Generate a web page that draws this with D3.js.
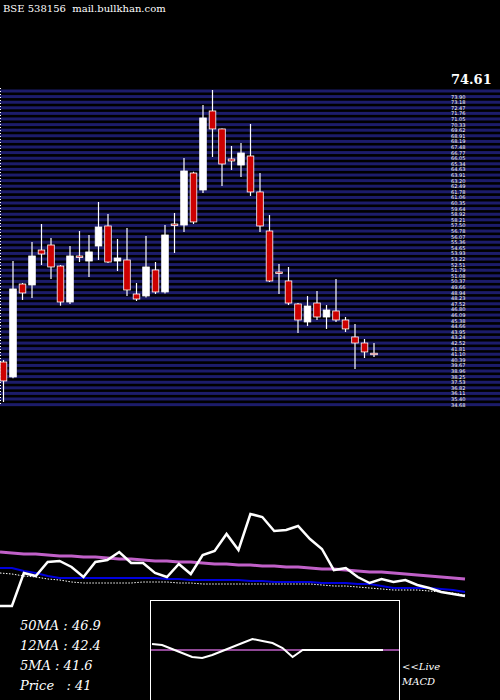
<!DOCTYPE html>
<html><head><meta charset="utf-8">
<script src="https://cdn.jsdelivr.net/npm/d3@7"></script>
<style>body{margin:0;background:#000}svg{display:block}text{white-space:pre}</style>
</head><body>
<script>
const opens =[39.98,38.08,49.91,49.79,54.24,54.88,52.20,47.62,53.48,52.84,54.75,57.30,52.84,52.97,48.64,48.39,51.70,48.90,57.55,57.42,64.04,61.88,71.94,69.65,65.83,65.06,66.21,61.63,56.66,51.44,50.30,47.37,45.08,47.49,45.71,46.48,45.33,43.17,42.40,41.10];
const closes=[37.57,49.28,48.77,53.48,53.73,52.08,47.62,53.48,53.35,53.99,57.17,52.71,53.22,49.15,48.00,52.08,48.90,56.15,57.49,64.30,57.81,71.05,69.65,65.19,65.57,66.59,61.63,57.30,50.30,51.32,47.49,45.33,47.11,45.71,46.60,45.33,44.19,42.40,41.26,41.00];
const highs =[40.24,52.84,50.04,55.26,57.55,55.77,52.33,54.75,56.66,56.15,60.35,58.82,55.64,57.04,50.04,56.02,52.71,57.42,58.95,65.95,64.20,72.70,74.61,69.70,67.48,67.86,70.28,64.04,58.70,52.46,52.08,47.49,48.39,49.02,47.24,50.55,45.71,44.82,42.91,42.40];
const lows  =[34.89,37.90,47.88,48.13,52.33,50.55,47.15,47.37,52.71,50.81,52.97,52.59,51.57,48.39,47.75,48.20,48.64,48.70,53.86,56.53,57.55,61.50,66.08,62.39,64.43,63.54,61.12,56.53,50.17,48.64,47.24,43.68,44.57,45.33,44.19,45.08,43.80,39.09,40.49,40.62];
const volLine=[0,0,33,30,44,45,39,29,44,46,54,43,43,33,29,42,32,51,55,72,56,92,89,75,76,80,67,57,36,38,29,23,27,24,26,21,18,14,12,10];
const ma50=[54,53,52,52,51,50,50,49,49,48,47,47,46,45,45,44,44,43,42,42,41,41,40,40,39,39,38,37,37,36,35,34,34,33,32,31,30,29,28,27];
const ma12=[38,38,35,33,30,28,28,28,28,28,28,28,28,28,27,27,26,26,26,26,26,25,25,24,24,24,24,23,23,23,22,22,20,18,18,18,18,17,16,14];
const ma5=[33,32,30,29,27,26,24,23,23,23,23,23,24,24,24,23,23,22,22,22,22,22,22,22,22,22,22,21,20,20,19,18,17,16,16,16,15,14,13,11];
const macd=[6,5,1,-3,-7,-8,-5,-1,3,7,11,9,7,2,-7,0,0,0,0,0,0,0,0,0];
const infoLabels=["50MA : 46.9","12MA : 42.4","5MA : 41.6","Price   : 41"];

const W=500,H=700;
const svg=d3.select("body").append("svg").attr("width",W).attr("height",H);
svg.append("rect").attr("width",W).attr("height",H).attr("fill","#000");

const x=d3.scaleLinear().domain([0,39]).range([3.5,374]);
const y=d3.scaleLinear().domain([34.89,74.61]).range([402,90]);

const gridTicks=d3.range(0,57).map(i=>+(74.61-i*0.713).toFixed(2));
svg.append("g").selectAll("rect").data(gridTicks).join("rect")
 .attr("x",0).attr("width",W).attr("y",d=>y(d)-0.5).attr("height",3).attr("fill","#1c1c6a");
svg.append("g").selectAll("text").data(gridTicks.slice(1)).join("text")
 .attr("x",451).attr("y",d=>y(d)+3).attr("fill","#fff").attr("font-size",5)
 .attr("font-family","DejaVu Sans").text(d=>d.toFixed(2)+" ");
svg.append("text").attr("x",451).attr("y",84).attr("fill","#fff").attr("font-size",13)
 .attr("font-family","DejaVu Serif").attr("font-weight","bold").text("74.61");
svg.append("line").attr("x1",0.5).attr("x2",0.5).attr("y1",88).attr("y2",405).attr("stroke","#fff").attr("stroke-dasharray","1,2");

const idx=d3.range(opens.length);
const g=svg.append("g");
g.selectAll("line").data(idx).join("line")
 .attr("x1",i=>x(i)).attr("x2",i=>x(i)).attr("y1",i=>y(highs[i])).attr("y2",i=>y(lows[i]))
 .attr("stroke","#fff").attr("stroke-width",1.2);
g.selectAll("rect").data(idx).join("rect")
 .attr("x",i=>x(i)-3.3).attr("width",6.6)
 .attr("y",i=>y(Math.max(opens[i],closes[i])))
 .attr("height",i=>Math.max(1.5,Math.abs(y(opens[i])-y(closes[i]))))
 .attr("fill",i=>closes[i]<opens[i]?"#cc0000":"#fff")
 .attr("stroke","#fff").attr("stroke-width",0.8);

const yv=d3.scaleLinear().domain([0,100]).range([606,506]);
const xl=d3.scaleLinear().domain([0,39]).range([0,465]);
const ln=d3.line().x((d,i)=>xl(i)).y(d=>yv(d));
svg.append("path").attr("d",ln(ma50)).attr("fill","none").attr("stroke","#c060c8").attr("stroke-width",3);
svg.append("path").attr("d",ln(ma12)).attr("fill","none").attr("stroke","#0000dd").attr("stroke-width",2);
svg.append("path").attr("d",ln(ma5)).attr("fill","none").attr("stroke","#fff").attr("stroke-width",1).attr("stroke-dasharray","1.5,1.5");
svg.append("path").attr("d",ln(volLine)).attr("fill","none").attr("stroke","#fff").attr("stroke-width",2.5);

svg.append("rect").attr("x",150.5).attr("y",600.5).attr("width",249).attr("height",110).attr("fill","#000").attr("stroke","#fff");
svg.append("line").attr("x1",151).attr("x2",399).attr("y1",650).attr("y2",650).attr("stroke","#c060c8").attr("stroke-width",1.5);
const xm=d3.scaleLinear().domain([0,23]).range([152,383]);
const ym=d3.scaleLinear().domain([-10,10]).range([660,640]);
svg.append("path").attr("d",d3.line().x((d,i)=>xm(i)).y(d=>ym(d))(macd)).attr("fill","none").attr("stroke","#fff").attr("stroke-width",2);

svg.selectAll("text.info").data(infoLabels).join("text").attr("class","info")
 .attr("x",20).attr("y",(d,i)=>630+i*20).attr("fill","#fff").attr("font-size",13)
 .attr("font-style","italic").attr("font-family","DejaVu Serif").text(d=>d);
svg.append("text").attr("x",402).attr("y",670).attr("fill","#fff").attr("font-size",10).attr("font-style","italic").attr("font-family","DejaVu Serif").text("<<Live");
svg.append("text").attr("x",402).attr("y",685).attr("fill","#fff").attr("font-size",10).attr("font-style","italic").attr("font-family","DejaVu Serif").text("MACD");
svg.append("text").attr("x",3).attr("y",12).attr("fill","#fff").attr("font-size",10).attr("font-family","DejaVu Serif").text("BSE 538156  mail.bullkhan.com");
</script>
</body></html>
